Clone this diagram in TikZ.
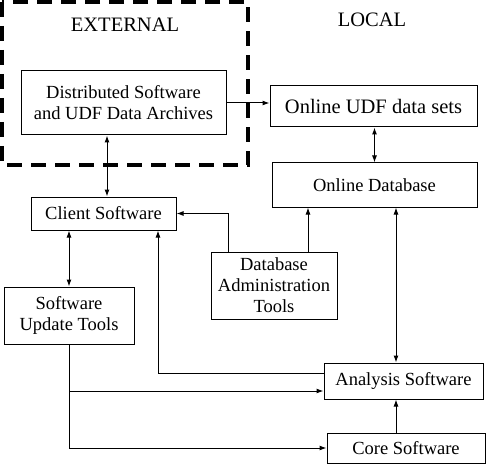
\documentclass[tikz,border=0pt]{standalone}
\usepackage{fontspec}
\setmainfont{Liberation Serif}
\usetikzlibrary{arrows.meta}
\tikzset{
  blk/.style = {draw=black, line width=1pt, align=center, inner sep=0pt,
    font=\fontsize{18.5}{21}\selectfont},
  heading/.style = {font=\fontsize{20.5}{24}\selectfont},
  conn/.style = {line width=1pt}}

\begin{document}
\begin{tikzpicture}[x=1pt, y=-1pt, >={Latex[length=7pt,width=5pt]}]
 \useasboundingbox (0,0) rectangle (492,473);

\draw[line width=3.5pt, dash pattern=on 15pt off 9pt] (2,2) rectangle (248,165);
\node[heading] (ext) at (125,25) {EXTERNAL};
\node[heading] (loc) at (372,20) {LOCAL};

\node[blk, minimum width=205pt, minimum height=64pt] (dist) at (123.5,103)
	{Distributed Software\\and UDF Data Archives};
\node[blk, minimum width=207pt, minimum height=41pt,
	font=\fontsize{20.5}{24}\selectfont] (udf) at (373.5,106.5) {Online UDF data sets};
\node[blk, minimum width=205pt, minimum height=44pt] (odb) at (374.5,185) {Online Database};
\node[blk, minimum width=145pt, minimum height=33pt] (client) at (103.5,213.5) {Client Software};
\node[blk, minimum width=126pt, minimum height=67pt] (admin) at (274,285.5)
	{Database\\Administration\\Tools};
\node[blk, minimum width=130pt, minimum height=57pt] (update) at (69,315.5)
	{Software\\Update Tools};
\node[blk, minimum width=159pt, minimum height=36pt] (analysis) at (403.5,381) {Analysis Software};
\node[blk, minimum width=158pt, minimum height=30pt] (core) at (406,448) {Core Software};

\coordinate (br) at ([yshift=-10pt]analysis.west);

\draw[conn,->] (dist.east) -- (dist.east -| udf.west);
\draw[conn,<->] ([xshift=3.5pt]client.north) -- ([xshift=3.5pt]client.north |- dist.south);
\draw[conn,<->] ([xshift=1pt]udf.south) -- ([xshift=1pt]udf.south |- odb.north);
\draw[conn,->] ([xshift=-46pt]admin.north) |- (client.east);
\draw[conn,->] ([xshift=34pt]admin.north) -- ([xshift=34pt]admin.north |- odb.south);
\draw[conn,<->] (update.north) -- (update.north |- client.south);
\draw[conn,<->] ([xshift=-7.5pt]analysis.north) -- ([xshift=-7.5pt]analysis.north |- odb.south);
\draw[conn,->] ([xshift=-10pt]core.north) -- ([xshift=-10pt]core.north |- analysis.south);
\draw[conn,->] ([yshift=8pt]analysis.west) -| ([xshift=54.5pt]client.south);
\draw[conn,->] (update.south) |- (core.west);
\draw[conn,->] (update.south |- br) -- (br);
\end{tikzpicture}
\end{document}
